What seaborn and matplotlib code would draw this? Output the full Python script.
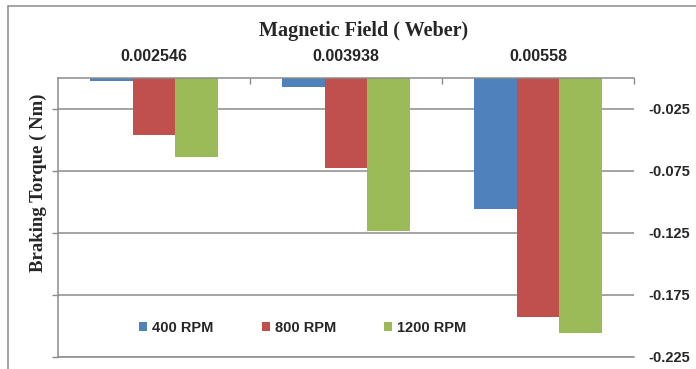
import numpy as np
import pandas as pd
import matplotlib
matplotlib.use("Agg")
import matplotlib.pyplot as plt
from matplotlib.lines import Line2D
import seaborn as sns

# ---- data ----
fields = ["0.002546", "0.003938", "0.00558"]
series_names = ["400 RPM", "800 RPM", "1200 RPM"]
rpm400 = [-0.0022, -0.0070, -0.1055]
rpm800 = [-0.0459, -0.0727, -0.1930]
rpm1200 = [-0.0638, -0.1232, -0.2060]
ytick_vals = [-0.025, -0.075, -0.125, -0.175, -0.225]
ytick_labels = ["-0.025", "-0.075", "-0.125", "-0.175", "-0.225"]
colors = ["#4F81BD", "#C0504D", "#9BBB59"]

df = pd.DataFrame({
    "field": fields * 3,
    "rpm": [series_names[0]] * 3 + [series_names[1]] * 3 + [series_names[2]] * 3,
    "torque": rpm400 + rpm800 + rpm1200,
})

sns.set_style("white")
plt.rcParams["font.family"] = ["Liberation Sans", "DejaVu Sans"]

W, H = 696, 369
fig = plt.figure(figsize=(W / 100, H / 100), dpi=100)
ax = fig.add_axes([58 / W, 1 - 357 / H, (634 - 58) / W, (357 - 78) / H])

sns.barplot(data=df, x="field", y="torque", hue="rpm", order=fields,
            hue_order=series_names, palette=colors, saturation=1,
            width=0.664, gap=0, ax=ax, errorbar=None, linewidth=0)

ax.set_xlim(-0.5, 2.5)
ax.set_ylim(-0.225, 0)

grid_c = "#8C8C8C"
# y axis: labels on right, ticks out on left
ax.set_yticks(ytick_vals, ytick_labels)
ax.yaxis.set_ticks_position("left")
ax.yaxis.set_label_position("right")
ax.tick_params(axis="y", which="major", left=True, right=False, labelleft=False,
               labelright=True, length=4, width=1, color=grid_c, pad=6,
               labelsize=10.5)
for t in ax.get_yticklabels():
    t.set_fontweight("bold")
ax.yaxis.grid(True, color=grid_c, linewidth=1.1)
ax.set_axisbelow(True)

# x axis on top
ax.xaxis.set_ticks_position("top")
ax.tick_params(axis="x", which="major", top=True, bottom=False, labeltop=True,
               labelbottom=False, length=0, pad=10, labelsize=11.5)
for t in ax.get_xticklabels():
    t.set_fontweight("bold")
ax.set_xticks([0.5, 1.5, 2.5], minor=True)
ax.tick_params(axis="x", which="minor", top=True, bottom=False, direction="in",
               length=4, width=1, color=grid_c)
ax.set_xlabel("")
ax.set_ylabel("")

for side in ["top", "left", "bottom"]:
    ax.spines[side].set_visible(True)
    ax.spines[side].set_color(grid_c)
    ax.spines[side].set_linewidth(1.1)
ax.spines["right"].set_visible(False)

# legend
handles, labels = ax.get_legend_handles_labels()
ax.legend(handles, labels, ncol=3, frameon=False, loc="center left",
          bbox_to_anchor=(139 / W, 1 - 328 / H), bbox_transform=fig.transFigure,
          borderpad=0, borderaxespad=0, handlelength=0.55, handleheight=0.55,
          handletextpad=0.35, columnspacing=3.3,
          prop={"family": "Liberation Sans", "weight": "bold", "size": 10.5})

# titles
fig.text(363.5 / W, 1 - 31 / H, "Magnetic Field ( Weber)", ha="center", va="center",
         fontsize=14.5, fontweight="bold", family=["Liberation Serif", "DejaVu Serif"])
fig.text(38 / W, 1 - 183 / H, "Braking Torque ( Nm)", ha="center", va="center",
         rotation=90, fontsize=13.5, fontweight="bold",
         family=["Liberation Serif", "DejaVu Serif"])

# outer chart border (cropped at right/bottom)
fig.add_artist(Line2D([7.5 / W, 1.0], [1 - 5.5 / H, 1 - 5.5 / H], transform=fig.transFigure,
                      color="#8C8C8C", linewidth=1.1))
fig.add_artist(Line2D([7.5 / W, 7.5 / W], [0, 1 - 5.5 / H], transform=fig.transFigure,
                      color="#8C8C8C", linewidth=1.1))

fig.savefig("out.png", dpi=100)
